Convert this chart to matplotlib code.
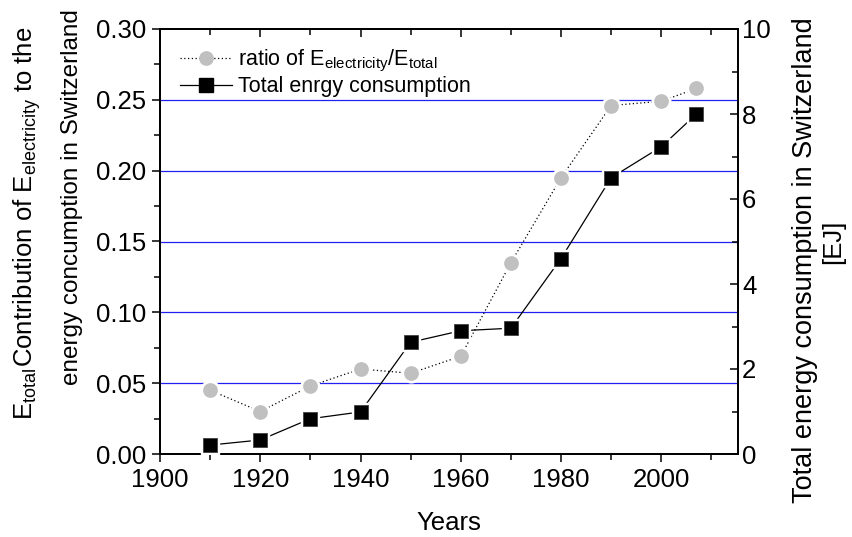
import matplotlib
matplotlib.use("Agg")
import matplotlib.pyplot as plt
from matplotlib.ticker import MultipleLocator, FormatStrFormatter
from matplotlib.lines import Line2D

plt.rcParams['font.family'] = ['Liberation Sans', 'DejaVu Sans']
plt.rcParams['mathtext.fontset'] = 'custom'
plt.rcParams['mathtext.rm'] = 'Liberation Sans'
plt.rcParams['mathtext.default'] = 'regular'

# Data
years = [1910, 1920, 1930, 1940, 1950, 1960, 1970, 1980, 1990, 2000, 2007]
ratio_elec = [0.045, 0.030, 0.048, 0.060, 0.057, 0.069, 0.135, 0.195, 0.246, 0.249, 0.258]
total_energy = [0.21, 0.33, 0.83, 0.99, 2.63, 2.90, 2.96, 4.60, 6.50, 7.23, 8.00]
grid_levels = [0.05, 0.10, 0.15, 0.20, 0.25]

FS = 18.5
fig = plt.figure(figsize=(8.53, 5.37), dpi=100)
ax = fig.add_axes([160/853, 83/537, 578/853, 425/537])
ax2 = ax.twinx()

# horizontal reference lines
for g in grid_levels:
    ax.axhline(g, color='#2020f0', lw=0.9, zorder=1)

# electricity ratio on the left axis
ax.plot(years, ratio_elec, ls=(0, (1, 2)), color='black', lw=0.9, zorder=2)
ax.plot(years, ratio_elec, ls='none', marker='o', ms=13.5, mfc='white', mec='white', zorder=3)
ax.plot(years, ratio_elec, ls='none', marker='o', ms=9.6, mfc='#c0c0c0', mec='#c0c0c0', zorder=4)

# total consumption on the right axis
ax2.plot(years, total_energy, ls='-', color='black', lw=0.9, zorder=2)
ax2.plot(years, total_energy, ls='none', marker='s', ms=13.5, mfc='white', mec='white', zorder=3)
ax2.plot(years, total_energy, ls='none', marker='s', ms=9.6, mfc='black', mec='#404040', mew=0.6, zorder=4)

ax.set_xlim(1900, 2015.3)
ax.set_ylim(0, 0.30)
ax2.set_ylim(0, 10)

ax.xaxis.set_major_locator(MultipleLocator(20))
ax.xaxis.set_minor_locator(MultipleLocator(10))
ax.yaxis.set_major_locator(MultipleLocator(0.05))
ax.yaxis.set_minor_locator(MultipleLocator(0.025))
ax.yaxis.set_major_formatter(FormatStrFormatter('%.2f'))
ax2.yaxis.set_major_locator(MultipleLocator(2))
ax2.yaxis.set_minor_locator(MultipleLocator(1))

for a in (ax, ax2):
    for s in a.spines.values():
        s.set_linewidth(1.3)

ax.tick_params(axis='both', which='major', direction='out', length=6, width=1.1,
               labelsize=FS, pad=4)
ax.tick_params(axis='both', which='minor', direction='out', length=4, width=1.1)
ax2.tick_params(axis='y', which='major', direction='in', length=6, width=1.1,
                labelsize=FS, pad=3)
ax2.tick_params(axis='y', which='minor', direction='in', length=4, width=1.1)

top = ax.secondary_xaxis('top')
top.xaxis.set_major_locator(MultipleLocator(20))
top.xaxis.set_minor_locator(MultipleLocator(10))
top.tick_params(axis='x', which='major', direction='in', length=6, width=1.1, labeltop=False)
top.tick_params(axis='x', which='minor', direction='in', length=4, width=1.1)
top.spines['top'].set_linewidth(1.3)

ax.set_xlabel('Years', fontsize=FS, labelpad=14)

# right axis title
fig.text(812/853, (537-503)/537, 'Total energy consumption in Switzerland', fontsize=19.5,
         rotation=90, rotation_mode='anchor', ha='left', va='baseline')
fig.text(840/853, (537-242)/537, '[EJ]', fontsize=18.5,
         rotation=90, rotation_mode='anchor', ha='center', va='baseline')

# left axis title, split over two columns
fig.text(33/853, (537-367)/537, 'Contribution of E$_{electricity}$ to the', fontsize=FS,
         rotation=90, rotation_mode='anchor', ha='left', va='baseline')
fig.text(78/853, (537-385)/537, 'energy concumption in Switzerland', fontsize=17.5,
         rotation=90, rotation_mode='anchor', ha='left', va='baseline')
fig.text(33/853, (537-420)/537, 'E$_{total}$', fontsize=FS,
         rotation=90, rotation_mode='anchor', ha='left', va='baseline')

handles = [
    Line2D([], [], ls=(0, (1, 2)), color='black', lw=0.9, marker='o', ms=9.6,
           mfc='#c0c0c0', mec='#c0c0c0'),
    Line2D([], [], ls='-', color='black', lw=0.9, marker='s', ms=9.6,
           mfc='black', mec='black'),
]
ax.legend(handles, ['ratio of E$_{electricity}$/E$_{total}$', 'Total enrgy consumption'],
          loc='upper left', bbox_to_anchor=(0.02, 0.975), frameon=False, fontsize=15.5,
          handlelength=2.4, handletextpad=0.3, labelspacing=0.1, borderaxespad=0)

fig.savefig('out.png', dpi=100)
